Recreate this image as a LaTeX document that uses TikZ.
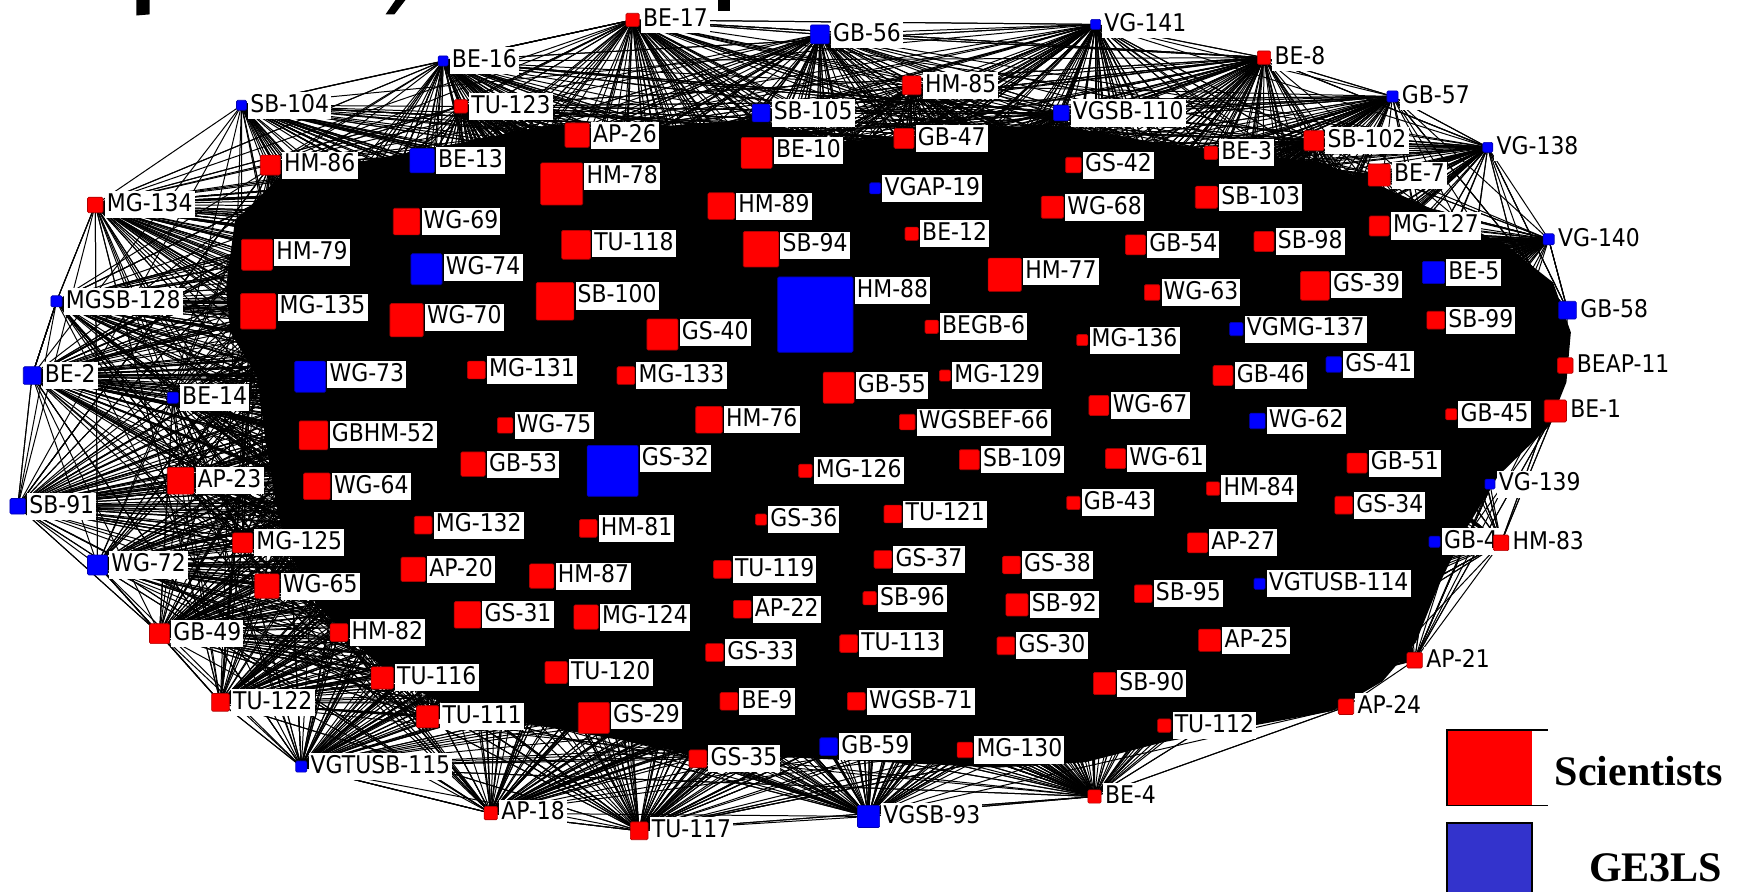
\documentclass[tikz,border=0pt]{standalone}
\usepackage{fontspec}
\newfontfamily\lblfont[FakeStretch=0.9]{DejaVu Sans}
\newfontfamily\legfont{Liberation Serif}
\usetikzlibrary{calc}
\pgfdeclarelayer{edges}
\pgfsetlayers{edges,main}
\definecolor{nred}{RGB}{255,0,0}
\definecolor{nblue}{RGB}{0,0,255}
\definecolor{legblue}{RGB}{51,51,204}
\tikzset{
  sq/.style={draw=#1!70!black, fill=#1, line width=0.3pt, rounded corners=0.6pt, inner sep=0pt, outer sep=0pt},
  lbl/.style={fill=white, inner xsep=1pt, inner ysep=1pt, outer sep=0pt,
    font=\lblfont\fontsize{11}{12}\selectfont, text height=8.2pt, text depth=2pt},
  edge/.style={line width=0.45pt, black},
  legtext/.style={font=\legfont\bfseries\fontsize{19}{20}\selectfont, anchor=base west, inner sep=0pt},
}
\newcommand\mynode[6]{%
  \node[sq=#5, minimum size={#4*0.5pt}] (#1) at (#2,#3) {};
  \pgfmathsetmacro\lbloff{max(#4/2,12.2)}%
  \node[lbl, anchor=north west] (#1-l) at ({#2+#4/2+1.5},{#3-\lbloff}) {#6};
}
\begin{document}
\begin{tikzpicture}[x=0.5pt,y=-0.5pt]
\useasboundingbox (0,0) rectangle (1568,805);
% title fragments (cut off at the top)
\fill[black] (123,0) -- (135,0) -- (135,13) -- (123,14) -- cycle;
\fill[black] (357,0) -- (366,0) -- (356,13) -- (348,13) -- cycle;
\fill[black] (648,0) -- (659,0) -- (659,10) -- (648,10) -- cycle;
% nodes
\mynode{BE-17}{571}{18}{12}{nred}{BE-17}
\mynode{GB-56}{740}{31}{17}{nblue}{GB-56}
\mynode{VG-141}{989}{22}{9}{nblue}{VG-141}
\mynode{BE-8}{1141}{52}{12}{nred}{BE-8}
\mynode{BE-16}{400}{55}{9}{nblue}{BE-16}
\mynode{HM-85}{823}{77}{17}{nred}{HM-85}
\mynode{TU-123}{416}{96}{12}{nred}{TU-123}
\mynode{SB-104}{218}{95}{9}{nblue}{SB-104}
\mynode{GB-57}{1257}{87}{10}{nblue}{GB-57}
\mynode{SB-105}{687}{102}{16}{nblue}{SB-105}
\mynode{VGSB-110}{958}{102}{14}{nblue}{VGSB-110}
\mynode{AP-26}{521}{122}{22}{nred}{AP-26}
\mynode{BE-10}{683}{138}{28}{nred}{BE-10}
\mynode{GB-47}{816}{125}{18}{nred}{GB-47}
\mynode{SB-102}{1186}{127}{18}{nred}{SB-102}
\mynode{BE-3}{1093}{138}{12}{nred}{BE-3}
\mynode{VG-138}{1343}{133}{9}{nblue}{VG-138}
\mynode{HM-86}{244}{149}{18}{nred}{HM-86}
\mynode{BE-13}{381}{145}{22}{nblue}{BE-13}
\mynode{GS-42}{969}{149}{14}{nred}{GS-42}
\mynode{BE-7}{1245}{158}{20}{nred}{BE-7}
\mynode{HM-78}{507}{166}{38}{nred}{HM-78}
\mynode{HM-89}{651}{186}{24}{nred}{HM-89}
\mynode{VGAP-19}{790}{170}{10}{nblue}{VGAP-19}
\mynode{MG-134}{86}{185}{14}{nred}{MG-134}
\mynode{WG-69}{367}{200}{24}{nred}{WG-69}
\mynode{WG-68}{950}{187}{20}{nred}{WG-68}
\mynode{SB-103}{1089}{178}{20}{nred}{SB-103}
\mynode{MG-127}{1245}{204}{18}{nred}{MG-127}
\mynode{TU-118}{520}{221}{26}{nred}{TU-118}
\mynode{SB-94}{687}{225}{32}{nred}{SB-94}
\mynode{BE-12}{823}{211}{12}{nred}{BE-12}
\mynode{GB-54}{1025}{221}{18}{nred}{GB-54}
\mynode{SB-98}{1141}{218}{18}{nred}{SB-98}
\mynode{VG-140}{1398}{216}{10}{nblue}{VG-140}
\mynode{HM-79}{232}{230}{28}{nred}{HM-79}
\mynode{WG-74}{385}{243}{28}{nblue}{WG-74}
\mynode{HM-88}{736}{284}{68}{nblue}{HM-88}
\mynode{HM-77}{907}{248}{30}{nred}{HM-77}
\mynode{GS-39}{1187}{258}{26}{nred}{GS-39}
\mynode{BE-5}{1294}{246}{20}{nblue}{BE-5}
\mynode{WG-63}{1040}{264}{14}{nred}{WG-63}
\mynode{MGSB-128}{51}{272}{10}{nblue}{MGSB-128}
\mynode{SB-100}{501}{272}{34}{nred}{SB-100}
\mynode{MG-135}{233}{281}{32}{nred}{MG-135}
\mynode{WG-70}{367}{289}{30}{nred}{WG-70}
\mynode{GS-40}{598}{302}{28}{nred}{GS-40}
\mynode{BEGB-6}{841}{295}{12}{nred}{BEGB-6}
\mynode{VGMG-137}{1116}{297}{12}{nblue}{VGMG-137}
\mynode{GB-58}{1415}{280}{16}{nblue}{GB-58}
\mynode{SB-99}{1296}{289}{16}{nred}{SB-99}
\mynode{MG-136}{977}{307}{10}{nred}{MG-136}
\mynode{BE-2}{29}{339}{16}{nblue}{BE-2}
\mynode{WG-73}{280}{340}{28}{nblue}{WG-73}
\mynode{MG-131}{430}{334}{16}{nred}{MG-131}
\mynode{MG-133}{565}{339}{16}{nred}{MG-133}
\mynode{GB-55}{757}{350}{28}{nred}{GB-55}
\mynode{MG-129}{853}{339}{10}{nred}{MG-129}
\mynode{GB-46}{1104}{339}{18}{nred}{GB-46}
\mynode{GS-41}{1204}{329}{14}{nblue}{GS-41}
\mynode{BEAP-11}{1413}{330}{14}{nred}{BEAP-11}
\mynode{BE-14}{156}{359}{10}{nblue}{BE-14}
\mynode{GBHM-52}{283}{393}{26}{nred}{GBHM-52}
\mynode{WG-75}{456}{384}{14}{nred}{WG-75}
\mynode{HM-76}{640}{379}{24}{nred}{HM-76}
\mynode{WGSBEF-66}{819}{381}{14}{nred}{WGSBEF-66}
\mynode{WG-67}{992}{366}{18}{nred}{WG-67}
\mynode{WG-62}{1135}{380}{14}{nblue}{WG-62}
\mynode{GB-45}{1310}{374}{10}{nred}{GB-45}
\mynode{BE-1}{1404}{371}{20}{nred}{BE-1}
\mynode{AP-23}{163}{434}{24}{nred}{AP-23}
\mynode{WG-64}{286}{439}{24}{nred}{WG-64}
\mynode{GB-53}{427}{419}{22}{nred}{GB-53}
\mynode{GS-32}{553}{425}{46}{nblue}{GS-32}
\mynode{MG-126}{727}{425}{12}{nred}{MG-126}
\mynode{SB-109}{875}{415}{18}{nred}{SB-109}
\mynode{WG-61}{1007}{414}{18}{nred}{WG-61}
\mynode{GB-51}{1225}{418}{18}{nred}{GB-51}
\mynode{VG-139}{1345}{437}{9}{nblue}{VG-139}
\mynode{HM-84}{1095}{441}{12}{nred}{HM-84}
\mynode{GB-43}{969}{454}{12}{nred}{GB-43}
\mynode{GS-34}{1213}{456}{16}{nred}{GS-34}
\mynode{SB-91}{16}{457}{14}{nblue}{SB-91}
\mynode{MG-132}{382}{474}{16}{nred}{MG-132}
\mynode{HM-81}{531}{477}{16}{nred}{HM-81}
\mynode{GS-36}{687}{469}{10}{nred}{GS-36}
\mynode{TU-121}{806}{464}{16}{nred}{TU-121}
\mynode{GB4}{1295}{489}{10}{nblue}{GB-4}
\mynode{HM-83}{1355}{490}{14}{nred}{HM-83}
\mynode{MG-125}{219}{490}{18}{nred}{MG-125}
\mynode{AP-27}{1081}{490}{18}{nred}{AP-27}
\mynode{WG-72}{88}{510}{18}{nblue}{WG-72}
\mynode{AP-20}{373}{514}{22}{nred}{AP-20}
\mynode{HM-87}{489}{520}{22}{nred}{HM-87}
\mynode{TU-119}{652}{514}{16}{nred}{TU-119}
\mynode{GS-37}{797}{505}{16}{nred}{GS-37}
\mynode{GS-38}{913}{510}{16}{nred}{GS-38}
\mynode{WG-65}{241}{529}{22}{nred}{WG-65}
\mynode{VGTUSB-114}{1137}{527}{10}{nblue}{VGTUSB-114}
\mynode{SB-95}{1032}{536}{16}{nred}{SB-95}
\mynode{AP-22}{670}{550}{16}{nred}{AP-22}
\mynode{SB-96}{785}{540}{12}{nred}{SB-96}
\mynode{SB-92}{918}{546}{20}{nred}{SB-92}
\mynode{GS-31}{422}{555}{24}{nred}{GS-31}
\mynode{MG-124}{529}{557}{22}{nred}{MG-124}
\mynode{GB-49}{144}{572}{18}{nred}{GB-49}
\mynode{HM-82}{306}{571}{16}{nred}{HM-82}
\mynode{TU-113}{766}{581}{16}{nred}{TU-113}
\mynode{GS-30}{908}{583}{16}{nred}{GS-30}
\mynode{AP-25}{1092}{578}{20}{nred}{AP-25}
\mynode{GS-33}{645}{589}{16}{nred}{GS-33}
\mynode{AP-21}{1277}{596}{14}{nred}{AP-21}
\mynode{TU-120}{502}{607}{20}{nred}{TU-120}
\mynode{TU-116}{345}{612}{20}{nred}{TU-116}
\mynode{SB-90}{997}{617}{20}{nred}{SB-90}
\mynode{TU-122}{199}{634}{16}{nred}{TU-122}
\mynode{BE-9}{658}{633}{16}{nred}{BE-9}
\mynode{WGSB-71}{773}{633}{16}{nred}{WGSB-71}
\mynode{GS-29}{536}{648}{28}{nred}{GS-29}
\mynode{TU-111}{386}{647}{20}{nred}{TU-111}
\mynode{AP-24}{1215}{638}{14}{nred}{AP-24}
\mynode{TU-112}{1051}{655}{12}{nred}{TU-112}
\mynode{GB-59}{748}{674}{16}{nblue}{GB-59}
\mynode{MG-130}{871}{677}{14}{nred}{MG-130}
\mynode{GS-35}{630}{685}{16}{nred}{GS-35}
\mynode{VGTUSB-115}{272}{692}{10}{nblue}{VGTUSB-115}
\mynode{BE-4}{988}{719}{12}{nred}{BE-4}
\mynode{AP-18}{443}{734}{12}{nred}{AP-18}
\mynode{VGSB-93}{784}{737}{20}{nblue}{VGSB-93}
\mynode{TU-117}{577}{750}{16}{nred}{TU-117}
% edges
\pgfmathdeclarerandomlist{allnodes}{{BE-17}{GB-56}{VG-141}{BE-8}{BE-16}{HM-85}{TU-123}{SB-104}{GB-57}{SB-105}{VGSB-110}{AP-26}{BE-10}{GB-47}{SB-102}{BE-3}{VG-138}{HM-86}{BE-13}{GS-42}{BE-7}{HM-78}{HM-89}{VGAP-19}{MG-134}{WG-69}{WG-68}{SB-103}{MG-127}{TU-118}{SB-94}{BE-12}{GB-54}{SB-98}{VG-140}{HM-79}{WG-74}{HM-88}{HM-77}{GS-39}{BE-5}{WG-63}{MGSB-128}{SB-100}{MG-135}{WG-70}{GS-40}{BEGB-6}{VGMG-137}{GB-58}{SB-99}{MG-136}{BE-2}{WG-73}{MG-131}{MG-133}{GB-55}{MG-129}{GB-46}{GS-41}{BEAP-11}{BE-14}{GBHM-52}{WG-75}{HM-76}{WGSBEF-66}{WG-67}{WG-62}{GB-45}{BE-1}{AP-23}{WG-64}{GB-53}{GS-32}{MG-126}{SB-109}{WG-61}{GB-51}{VG-139}{HM-84}{GB-43}{GS-34}{SB-91}{MG-132}{HM-81}{GS-36}{TU-121}{GB4}{HM-83}{MG-125}{AP-27}{WG-72}{AP-20}{HM-87}{TU-119}{GS-37}{GS-38}{WG-65}{VGTUSB-114}{SB-95}{AP-22}{SB-96}{SB-92}{GS-31}{MG-124}{GB-49}{HM-82}{TU-113}{GS-30}{AP-25}{GS-33}{AP-21}{TU-120}{TU-116}{SB-90}{TU-122}{BE-9}{WGSB-71}{GS-29}{TU-111}{AP-24}{TU-112}{GB-59}{MG-130}{GS-35}{VGTUSB-115}{BE-4}{AP-18}{VGSB-93}{TU-117}}
\begin{pgfonlayer}{edges}
\fill[black] (250,162) -- (330,145) -- (420,128) -- (500,112) -- (560,118) -- (620,112) -- (680,108) -- (760,128) -- (840,122) -- (900,114) -- (960,114) -- (1040,128) -- (1120,138) -- (1190,146) -- (1240,165) -- (1300,192) -- (1360,222) -- (1402,255) -- (1418,300) -- (1414,345) -- (1398,385) -- (1352,430) -- (1322,480) -- (1298,530) -- (1278,580) -- (1248,615) -- (1202,642) -- (1120,657) -- (1050,670) -- (980,688) -- (900,693) -- (800,688) -- (720,684) -- (640,684) -- (560,668) -- (480,654) -- (420,645) -- (360,615) -- (320,580) -- (285,545) -- (262,500) -- (250,460) -- (240,400) -- (232,340) -- (208,300) -- (204,260) -- (212,200) -- cycle;
\pgfmathsetseed{7}
\foreach \s/\n in {BE-17/70,GB-56/70,VG-141/70,BE-8/70,BE-16/70,SB-104/60,TU-123/70,GB-57/55,VG-138/50,VG-140/65,MG-134/70,MGSB-128/70,BE-2/70,BE-14/70,SB-91/70,WG-72/70,GB-49/70,TU-122/65,VGTUSB-115/65,AP-18/65,TU-117/70,VGSB-93/70,BE-4/70,TU-112/55,AP-24/55,AP-21/60,HM-83/65,VG-139/65,BE-1/70,BEAP-11/70,GB-58/70,
  HM-85/40,SB-105/40,VGSB-110/40,HM-86/45,BE-13/40,SB-102/40,BE-7/40,MG-127/40,MG-125/45,WG-65/45,HM-82/45,TU-116/45,TU-111/45,GS-35/40,GB-59/40,MG-130/40,AP-23/45,GB4/40,AP-26/40,GB-47/40,BE-3/40,GS-42/40,HM-79/45,MG-135/45,WG-64/40,GB-51/40,GS-34/40,GB-45/40,SB-90/40,AP-25/40,GS-29/40,TU-120/40,BE-5/40,SB-99/40,GB-53/35,
  BE-10/15,HM-78/15,HM-89/15,VGAP-19/15,WG-69/15,WG-68/15,SB-103/15,TU-118/15,SB-94/15,BE-12/15,GB-54/15,SB-98/15,WG-74/15,HM-88/15,HM-77/15,GS-39/15,WG-63/15,SB-100/15,WG-70/15,GS-40/15,BEGB-6/15,VGMG-137/15,MG-136/15,WG-73/15,MG-131/15,MG-133/15,GB-55/15,MG-129/15,GB-46/15,GS-41/15,GBHM-52/15,WG-75/15,HM-76/15,WGSBEF-66/15,WG-67/15,WG-62/15,GS-32/15,MG-126/15,SB-109/15,WG-61/15,HM-84/15,GB-43/15,MG-132/15,HM-81/15,GS-36/15,TU-121/15,AP-27/15,AP-20/15,HM-87/15,TU-119/15,GS-37/15,GS-38/15,VGTUSB-114/15,SB-95/15,AP-22/15,SB-96/15,SB-92/15,GS-31/15,MG-124/15,TU-113/15,GS-30/15,GS-33/15,BE-9/15,WGSB-71/15}
{
  \foreach \k in {1,...,\n}{
    \pgfmathrandomitem{\tg}{allnodes}
    \draw[edge] (\s.center) -- (\tg.center);
  }
}
% ring of outer neighbours
\foreach \a/\b in {SB-104/BE-16,BE-16/BE-17,BE-17/GB-56,GB-56/VG-141,VG-141/BE-8,BE-8/GB-57,GB-57/VG-138,VG-138/VG-140,VG-140/GB-58,GB-58/BEAP-11,BEAP-11/BE-1,BE-1/VG-139,VG-139/HM-83,HM-83/AP-21,AP-21/AP-24,AP-24/TU-112,TU-112/BE-4,BE-4/VGSB-93,VGSB-93/TU-117,TU-117/AP-18,AP-18/VGTUSB-115,VGTUSB-115/TU-122,TU-122/GB-49,GB-49/WG-72,WG-72/SB-91,SB-91/BE-2,BE-2/MGSB-128,MGSB-128/MG-134,MG-134/SB-104,BE-8/VG-138,GB-56/BE-8,BE-17/VG-141,SB-104/TU-123,BE-4/AP-24}
  \draw[edge] (\a.center) -- (\b.center);
\end{pgfonlayer}
% legend
\fill[nred] (1306,659) rectangle (1383,727);
\draw[line width=0.5pt] (1397,659) -- (1306,659) -- (1306,727) -- (1397,727);
\draw[line width=1pt] (1306,659) -- (1306,727);
\node[legtext] (sci) at (1403,709) {Scientists};
\fill[legblue] (1306,743) rectangle (1383,806);
\draw[line width=1pt] (1306,806) -- (1306,743) -- (1383,743) -- (1383,806);
\node[legtext] (ge3ls) at (1434,796) {GE3LS};
\end{tikzpicture}
\end{document}
